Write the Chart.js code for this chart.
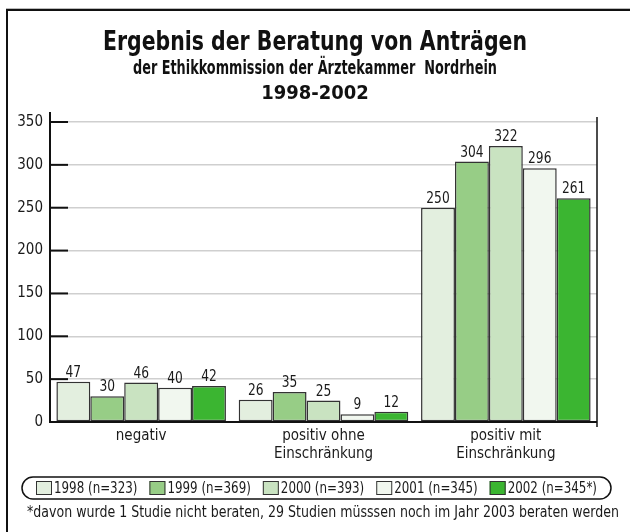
<!DOCTYPE html>
<html>
<head>
<meta charset="utf-8">
<script src="https://cdn.jsdelivr.net/npm/chart.js@4"></script>
<style>
  html,body{margin:0;padding:0;background:#fff;}
  #wrap{width:630px;height:532px;position:relative;}
</style>
</head>
<body>
<div id="wrap"><canvas id="chart" width="630" height="532"></canvas></div>
<script>
/* ── DATA ── */
const categories = ['negativ', ['positiv ohne','Einschränkung'], ['positiv mit','Einschränkung']];
const years      = ['1998 (n=323)','1999 (n=369)','2000 (n=393)','2001 (n=345)','2002 (n=345*)'];
const v1998 = [47, 26, 250];
const v1999 = [30, 35, 304];
const v2000 = [46, 25, 322];
const v2001 = [40,  9, 296];
const v2002 = [42, 12, 261];
const yTicks = [0,50,100,150,200,250,300,350];

const colors = ['#e3efdf','#97cd86','#c9e3c1','#f1f7ef','#3bb531'];
const FONT = "'Liberation Sans Narrow','DejaVu Sans Condensed','Liberation Sans',sans-serif";
const titleLines = [
  {text:'Ergebnis der Beratung von Anträgen', size:26, y:50, w:424},
  {text:'der Ethikkommission der Ärztekammer  Nordrhein', size:20, y:74, w:364},
  {text:'1998-2002', size:20, y:99, w:114}
];
const footnote = '*davon wurde 1 Studie nicht beraten, 29 Studien müsssen noch im Jahr 2003 beraten werden';

// draw text squeezed horizontally (condensed face not installed)
function squeeze(ctx, text, x, y, sx){
  ctx.save(); ctx.translate(x, y); ctx.scale(sx, 1); ctx.fillText(text, 0, 0); ctx.restore();
}

/* ── PLUGIN: titles, axes, value labels, legend, footnote ── */
const decor = {
  id:'decor',
  afterDraw(chart){
    const ctx = chart.ctx, ca = chart.chartArea, ys = chart.scales.y;
    ctx.save();

    // frame (left + top only)
    ctx.strokeStyle='#bbb'; ctx.lineWidth=1;
    ctx.beginPath(); ctx.moveTo(6,8.5); ctx.lineTo(630,8.5); ctx.stroke();
    ctx.strokeStyle='#111'; ctx.lineWidth=2;
    ctx.beginPath(); ctx.moveTo(7,540); ctx.lineTo(7,10); ctx.lineTo(630,10); ctx.stroke();

    // titles
    ctx.fillStyle='#111'; ctx.textAlign='center'; ctx.textBaseline='alphabetic';
    titleLines.forEach(t=>{
      ctx.font=`bold ${t.size}px ${FONT}`;
      const sx = Math.min(1, t.w/ctx.measureText(t.text).width);
      squeeze(ctx, t.text, 315, t.y, sx);
    });

    // axes
    ctx.strokeStyle='#111'; ctx.lineWidth=2;
    ctx.beginPath(); ctx.moveTo(ca.left, ca.top-10); ctx.lineTo(ca.left, ca.bottom+1); ctx.stroke();
    ctx.beginPath(); ctx.moveTo(ca.left, ca.bottom); ctx.lineTo(ca.right, ca.bottom); ctx.stroke();
    ctx.lineWidth=1.5;
    ctx.beginPath(); ctx.moveTo(ca.right, ca.top-5); ctx.lineTo(ca.right, ca.bottom+5); ctx.stroke();
    ctx.lineWidth=2;
    yTicks.forEach(v=>{
      if (!v) return;
      const y = ys.getPixelForValue(v);
      ctx.beginPath(); ctx.moveTo(ca.left, y); ctx.lineTo(ca.left+18, y); ctx.stroke();
    });

    // value labels
    ctx.font=`16px ${FONT}`; ctx.fillStyle='#1a1a1a'; ctx.textBaseline='bottom';
    chart.data.datasets.forEach((ds,i)=>{
      chart.getDatasetMeta(i).data.forEach((bar,j)=>{
        squeeze(ctx, ds.data[j], bar.x, bar.y-1, 0.85);
      });
    });

    // legend, fitted between x=22 and x=611
    ctx.font=`16px ${FONT}`; ctx.textBaseline='middle'; ctx.textAlign='left';
    const box=16, gapTxt=2, gapItem=12, pillL=22, pillR=611, inset=14;
    const raw = years.map(t=>ctx.measureText(t).width);
    const room = (pillR-pillL) - 2*inset - years.length*(box+gapTxt) - gapItem*(years.length-1);
    const sx = Math.min(1, room/raw.reduce((s,w)=>s+w,0));
    const ly = 488;
    ctx.strokeStyle='#111'; ctx.lineWidth=1.5;
    ctx.beginPath(); ctx.roundRect(pillL, ly-11, pillR-pillL, 22, 11); ctx.stroke();
    let x = pillL+inset;
    years.forEach((t,i)=>{
      ctx.fillStyle=colors[i]; ctx.fillRect(x, ly-7, box, 14);
      ctx.strokeStyle='#333'; ctx.lineWidth=1; ctx.strokeRect(x+.5, ly-6.5, box-1, 13);
      ctx.fillStyle='#1a1a1a'; squeeze(ctx, t, x+box+gapTxt, ly+1, sx);
      x += box+gapTxt+raw[i]*sx+gapItem;
    });

    // footnote
    ctx.font=`15px ${FONT}`; ctx.textAlign='center'; ctx.textBaseline='alphabetic';
    squeeze(ctx, footnote, 323, 517, Math.min(1, 592/ctx.measureText(footnote).width));
    ctx.restore();
  }
};

const sets = [v1998,v1999,v2000,v2001,v2002].map((d,i)=>({
  label:years[i], data:d, backgroundColor:colors[i],
  borderColor:'#333', borderWidth:1.5, borderSkipped:false,
  barPercentage:1, categoryPercentage:0.93
}));

new Chart(document.getElementById('chart').getContext('2d'),{
  type:'bar',
  data:{ labels:categories, datasets:sets },
  options:{
    responsive:false, animation:false,
    layout:{ padding:{ top:122, left:8, right:33, bottom:60 } },
    plugins:{ legend:{display:false}, title:{display:false}, tooltip:{enabled:false} },
    scales:{
      x:{
        grid:{display:false, drawTicks:false}, border:{display:false},
        ticks:{ color:'#1a1a1a', font:{family:FONT, size:15}, padding:5, maxRotation:0 },
        afterFit(s){ s.height=50; }
      },
      y:{
        min:0, max:350,
        grid:{ color:'#cfcfcf', lineWidth:1.5, drawTicks:false }, border:{display:false},
        ticks:{ stepSize:50, color:'#1a1a1a', font:{family:FONT, size:15}, padding:7 },
        afterFit(s){ s.width=42; }
      }
    }
  },
  plugins:[decor]
});
</script>
</body>
</html>
